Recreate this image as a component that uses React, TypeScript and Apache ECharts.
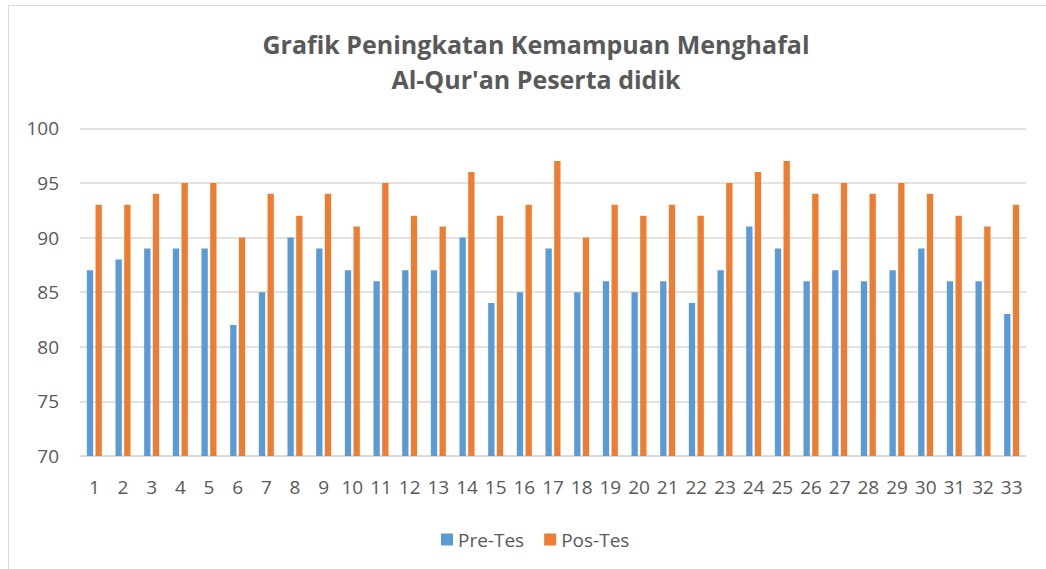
import React, { useEffect, useRef } from "react";
import * as echarts from "echarts";

const categories = Array.from({ length: 33 }, (_, i) => String(i + 1));
const preTes = [87, 88, 89, 89, 89, 82, 85, 90, 89, 87, 86, 87, 87, 90, 84, 85, 89, 85, 86, 85, 86, 84, 87, 91, 89, 86, 87, 86, 87, 89, 86, 86, 83];
const posTes = [93, 93, 94, 95, 95, 90, 94, 92, 94, 91, 95, 92, 91, 96, 92, 93, 97, 90, 93, 92, 93, 92, 95, 96, 97, 94, 95, 94, 95, 94, 92, 91, 93];
const titleLines = ["Grafik Peningkatan Kemampuan Menghafal", "Al-Qur'an Peserta didik"];

const FONT = "'Open Sans', 'Noto Sans', sans-serif";
const TEXT = "#595959";

export default function App() {
  const ref = useRef<HTMLDivElement>(null);
  useEffect(() => {
    if (!ref.current) return;
    const chart = echarts.init(ref.current, undefined, { renderer: "svg" });
    chart.setOption({
      animation: false,
      backgroundColor: "#ffffff",
      textStyle: { fontFamily: FONT, color: TEXT },
      graphic: [
        {
          type: "rect",
          shape: { x: 8.5, y: 5.5, width: 1200, height: 700 },
          style: { fill: "none", stroke: "#D9D9D9", lineWidth: 1 },
          silent: true,
        },
      ],
      title: {
        text: titleLines.join("\n"),
        left: 531,
        textAlign: "center",
        top: 21,
        textStyle: {
          fontFamily: FONT,
          fontSize: 25,
          fontWeight: "bold",
          color: TEXT,
          lineHeight: 35,
        },
      },
      legend: {
        data: ["Pre-Tes", "Pos-Tes"],
        left: 436,
        top: 525,
        itemWidth: 12,
        itemHeight: 12,
        itemGap: 20,
        icon: "rect",
        textStyle: { fontFamily: FONT, fontSize: 19, color: TEXT },
      },
      grid: { left: 80, right: 20, top: 128.3, bottom: 569 - 456, containLabel: false },
      xAxis: {
        type: "category",
        data: categories,
        axisLine: { show: true, lineStyle: { color: "#D9D9D9", width: 1.5 } },
        axisTick: { show: false },
        axisLabel: { fontFamily: FONT, fontSize: 19, color: TEXT, margin: 21 },
      },
      yAxis: {
        type: "value",
        min: 70,
        max: 100,
        interval: 5,
        axisLine: { show: false },
        axisTick: { show: false },
        splitLine: { lineStyle: { color: "#D9D9D9", width: 1.5 } },
        axisLabel: { fontFamily: FONT, fontSize: 19, color: TEXT, margin: 21 },
      },
      series: [
        {
          name: "Pre-Tes",
          type: "bar",
          data: preTes,
          barWidth: 6.3,
          barGap: "38%",
          itemStyle: { color: "#5B9BD5" },
        },
        {
          name: "Pos-Tes",
          type: "bar",
          data: posTes,
          barWidth: 6.3,
          barGap: "38%",
          itemStyle: { color: "#ED7D31" },
        },
      ],
    });
    return () => chart.dispose();
  }, []);
  return (
    <div
      ref={ref}
      style={{ position: "absolute", left: 0, top: 0, width: 1046, height: 569 }}
    />
  );
}
